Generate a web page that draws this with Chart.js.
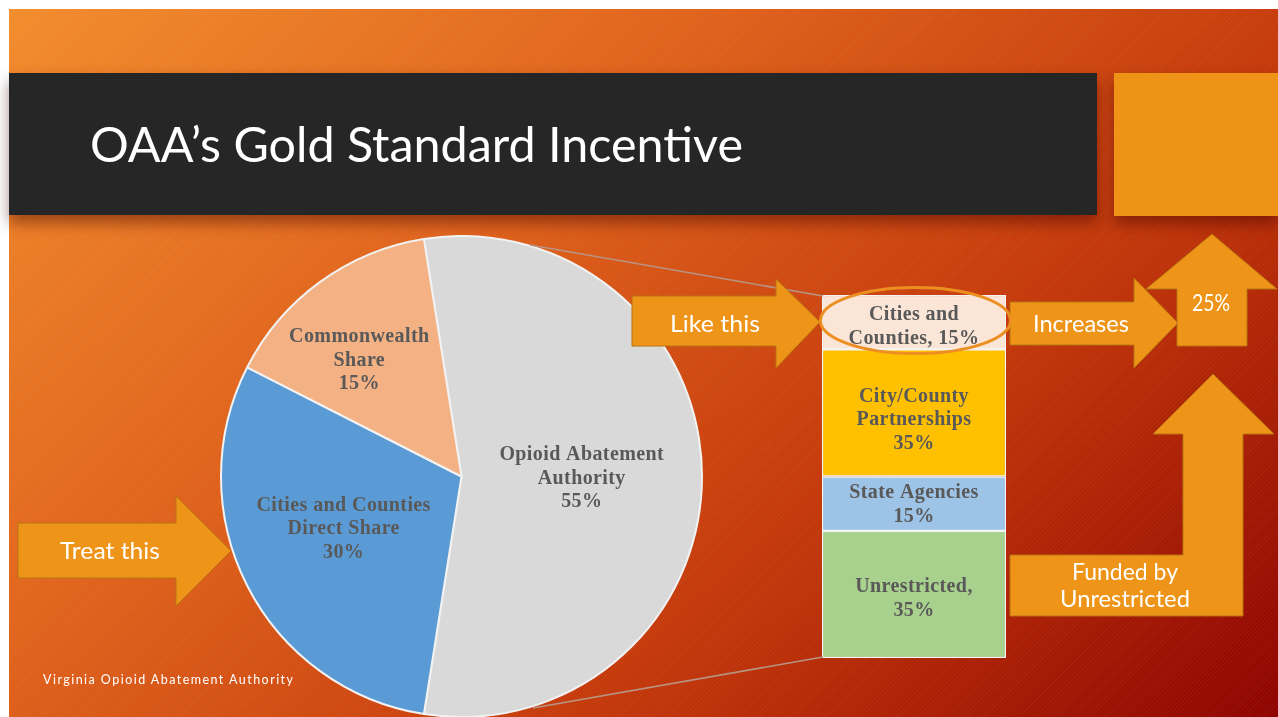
<!DOCTYPE html>
<html lang="en">
<head>
<meta charset="UTF-8" />
<title>OAA's Gold Standard Incentive</title>
<script src="https://cdn.jsdelivr.net/npm/chart.js"></script>
<style>
  body { margin: 0; width: 1278px; height: 717px; background: #fff; overflow: hidden; position: relative; }
  .slide {
    position: absolute; left: 9px; top: 9px; width: 1269px; height: 708px;
    background:
      repeating-linear-gradient(-45deg, rgba(255,255,255,0.035) 0 1px, rgba(0,0,0,0) 1px 3px),
      linear-gradient(137deg, #f28c2c 0%, #e0631c 34%, #c53a0b 65%, #bb3008 72%, #8e0300 100%);
  }
  .titlebar { position: absolute; left: 9px; top: 73px; width: 1088px; height: 142px; background: #262626; box-shadow: 0 8px 14px rgba(60,0,0,0.45); }
  .square { position: absolute; left: 1114px; top: 73px; width: 164px; height: 143px; background: #ee9316; box-shadow: 0 8px 14px rgba(60,0,0,0.45); }
  .pie { position: absolute; left: 220px; top: 235px; width: 483px; height: 483px; }
  .bar { position: absolute; left: 822px; top: 295px; width: 184px; height: 363px; }
  svg { position: absolute; left: 0; top: 0; }
</style>
</head>
<body>
  <div class="slide"></div>
  <div class="titlebar"></div>
  <div class="square"></div>
  <div class="pie"><canvas id="pieChart"></canvas></div>
  <div class="bar"><canvas id="barChart"></canvas></div>

  <svg width="1278" height="717" font-family="Lato, 'Open Sans', sans-serif">
    <text x="90" y="162" fill="#fff" font-size="48" textLength="653" lengthAdjust="spacingAndGlyphs">OAA’s Gold Standard Incentive</text>

    <!-- lignes de rappel pie -> barre -->
    <line x1="530" y1="245" x2="823" y2="296" stroke="#b89484" stroke-width="1.5" />
    <line x1="533" y1="708" x2="823" y2="657" stroke="#b89484" stroke-width="1.5" />

    <g fill="#ee9418" stroke="#b67510" stroke-width="1">
      <polygon points="18,523 176,523 176,496 231,551 176,606 176,578 18,578" />
      <polygon points="632,296 776,296 776,279 820,322 776,368 776,346 632,346" />
      <polygon points="1010,302 1134,302 1134,278 1178,323 1134,368 1134,345 1010,345" />
      <polygon points="1177,346 1177,289 1146,289 1212,234 1277,289 1247,289 1247,346" />
      <polygon points="1010,555 1183,555 1183,434 1153,434 1213,374 1274,434 1243,434 1243,616 1010,616" />
    </g>

    <ellipse cx="915.5" cy="320.5" rx="95" ry="33" fill="none" stroke="#ec8f22" stroke-width="3" />

    <g fill="#fff" font-size="24" text-anchor="middle">
      <text x="110" y="559" textLength="100" lengthAdjust="spacingAndGlyphs">Treat this</text>
      <text x="715" y="332" textLength="90" lengthAdjust="spacingAndGlyphs">Like this</text>
      <text x="1081" y="332" textLength="96" lengthAdjust="spacingAndGlyphs">Increases</text>
      <text x="1211" y="311" textLength="38" lengthAdjust="spacingAndGlyphs">25%</text>
      <text x="1125" y="580" textLength="106" lengthAdjust="spacingAndGlyphs">Funded by</text>
      <text x="1125" y="607" textLength="130" lengthAdjust="spacingAndGlyphs">Unrestricted</text>
    </g>
    <text x="43" y="684" fill="#fff" font-size="12.5" textLength="250" lengthAdjust="spacing">Virginia Opioid Abatement Authority</text>
  </svg>

<script>
  // --- donnees du camembert ---
  const pieNames = [
    ["Opioid Abatement", "Authority"],
    ["Cities and Counties", "Direct Share"],
    ["Commonwealth", "Share"],
  ];
  const pieValues = [55, 30, 15];
  const pieColors = ["#d9d9d9", "#5b9bd5", "#f4b183"];

  // --- donnees de la barre empilee (de bas en haut) ---
  const barCategories = ["OAA"];
  const barNames = ["Unrestricted", "State Agencies", "City/County Partnerships", "Cities and Counties"];
  const barValues = [35, 15, 35, 15];
  const barLines = [
    ["Unrestricted,", "{v}%"],
    ["State Agencies", "{v}%"],
    ["City/County", "Partnerships", "{v}%"],
    ["Cities and", "Counties, {v}%"],
  ];
  const barColors = ["#a9d18e", "#9dc3e6", "#ffc000", "#fbe5d6"];

  const serifFont = 'bold 20px "Liberation Serif", "DejaVu Serif", serif';

  function drawLines(ctx, lines, x, y, lh) {
    const top = y - ((lines.length - 1) * lh) / 2;
    lines.forEach((t, k) => ctx.fillText(t, x, top + k * lh));
  }

  const pieText = {
    id: "pieText",
    afterDatasetsDraw(chart, args, opts) {
      const ctx = chart.ctx;
      const arcs = chart.getDatasetMeta(0).data;
      ctx.save();
      ctx.font = serifFont;
      ctx.letterSpacing = "0.4px";
      ctx.fillStyle = "#595959";
      ctx.textAlign = "center";
      ctx.textBaseline = "middle";
      arcs.forEach((arc, i) => {
        const r = arc.outerRadius;
        const x = arc.x + opts.offsets[i][0] * r;
        const y = arc.y + opts.offsets[i][1] * r + 2;
        drawLines(ctx, pieNames[i].concat(pieValues[i] + "%"), x, y, 23.5);
      });
      ctx.restore();
    },
  };

  const barText = {
    id: "barText",
    afterDatasetsDraw(chart, args, opts) {
      const ctx = chart.ctx;
      ctx.save();
      ctx.font = serifFont;
      ctx.letterSpacing = "0.4px";
      ctx.fillStyle = "#595959";
      ctx.textAlign = "center";
      ctx.textBaseline = "middle";
      chart.data.datasets.forEach((ds, i) => {
        const bar = chart.getDatasetMeta(i).data[0];
        const p = bar.getProps(["x", "y", "base"], true);
        const lines = barLines[i].map((t) => t.replace("{v}", ds.data[0]));
        drawLines(ctx, lines, p.x, (p.y + p.base) / 2 + opts.nudge[i], 23.5);
      });
      ctx.restore();
    },
  };

  new Chart(document.getElementById("pieChart"), {
    type: "pie",
    data: {
      labels: pieNames.map((n) => n.join(" ")),
      datasets: [{
        data: pieValues,
        backgroundColor: pieColors,
        borderColor: "#f2f2f2",
        borderWidth: 2,
        hoverOffset: 0,
      }],
    },
    options: {
      responsive: true,
      maintainAspectRatio: false,
      animation: false,
      rotation: -9,
      layout: { padding: 0 },
      plugins: {
        legend: { display: false },
        tooltip: { enabled: false },
        pieText: { offsets: [[0.5, 0], [-0.49, 0.21], [-0.425, -0.49]] },
      },
    },
    plugins: [pieText],
  });

  new Chart(document.getElementById("barChart"), {
    type: "bar",
    data: {
      labels: barCategories,
      datasets: barNames.map((name, i) => ({
        label: name,
        data: [barValues[i]],
        backgroundColor: barColors[i],
        borderColor: "#f4f4f4",
        borderWidth: 1.5,
        borderSkipped: false,
        barPercentage: 1,
        categoryPercentage: 1,
      })),
    },
    options: {
      responsive: true,
      maintainAspectRatio: false,
      animation: false,
      layout: { padding: 0 },
      scales: {
        x: { stacked: true, display: false },
        y: { stacked: true, display: false, min: 0, max: 100 },
      },
      plugins: {
        legend: { display: false },
        tooltip: { enabled: false },
        barText: { nudge: [4.5, 1, 7, 4.5] },
      },
    },
    plugins: [barText],
  });
</script>
</body>
</html>
